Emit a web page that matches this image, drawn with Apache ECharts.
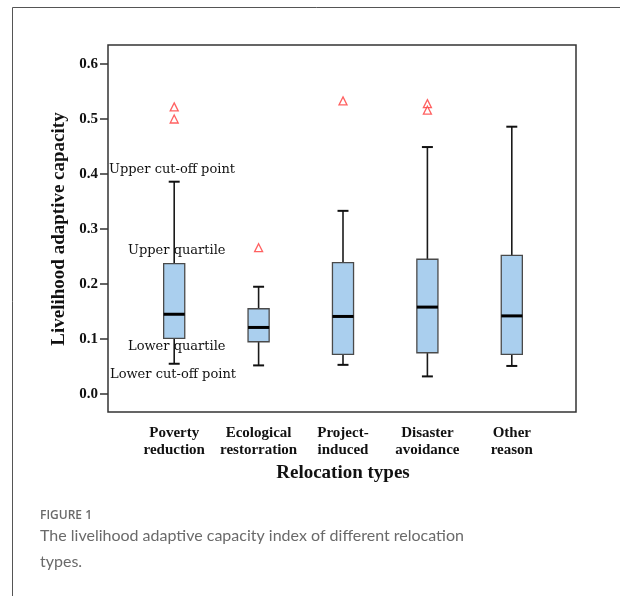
<!DOCTYPE html>
<html>
<head>
<meta charset="utf-8">
<script src="https://cdn.jsdelivr.net/npm/echarts@6/dist/echarts.min.js"></script>
<style>
  html, body { margin: 0; padding: 0; background: #fff; }
  #main { width: 620px; height: 596px; }
</style>
</head>
<body>
<div id="main"></div>
<script>
// relocation types (x axis)
var categories = ["Poverty\nreduction", "Ecological\nrestorration", "Project-\ninduced", "Disaster\navoidance", "Other\nreason"];
// box plot statistics
var lowWhisker = [0.055, 0.052, 0.053, 0.032, 0.051];
var lowerQuartile = [0.101, 0.095, 0.072, 0.075, 0.072];
var medians = [0.145, 0.121, 0.141, 0.158, 0.142];
var upperQuartile = [0.237, 0.155, 0.239, 0.245, 0.252];
var highWhisker = [0.386, 0.195, 0.333, 0.449, 0.486];
// outliers (category index, value)
var outlierCat = [0, 0, 1, 2, 3, 3];
var outlierVal = [0.522, 0.500, 0.266, 0.533, 0.528, 0.516];

var serif = "Liberation Serif";

var boxData = categories.map(function (c, i) {
	return [i, lowWhisker[i], lowerQuartile[i], medians[i], upperQuartile[i], highWhisker[i]];
});
var outliers = outlierCat.map(function (c, i) {
	return [c, outlierVal[i]];
});

var myChart = echarts.init(document.getElementById("main"));

function renderBox(params, api) {
	var idx = api.value(0);
	var band = api.size([1, 0])[0];
	var half = band * 0.125;
	var capHalf = band * 0.065;
	var pMin = api.coord([idx, api.value(1)]);
	var pQ1 = api.coord([idx, api.value(2)]);
	var pMed = api.coord([idx, api.value(3)]);
	var pQ3 = api.coord([idx, api.value(4)]);
	var pMax = api.coord([idx, api.value(5)]);
	var x = pMed[0];
	var black = { stroke: "#1a1a1a", lineWidth: 1.6 };
	return {
		type: "group",
		children: [
			{ type: "line", shape: { x1: x, y1: pMax[1], x2: x, y2: pQ3[1] }, style: black },
			{ type: "line", shape: { x1: x, y1: pQ1[1], x2: x, y2: pMin[1] }, style: black },
			{ type: "line", shape: { x1: x - capHalf, y1: pMax[1], x2: x + capHalf, y2: pMax[1] }, style: { stroke: "#111", lineWidth: 2 } },
			{ type: "line", shape: { x1: x - capHalf, y1: pMin[1], x2: x + capHalf, y2: pMin[1] }, style: { stroke: "#111", lineWidth: 2 } },
			{
				type: "rect",
				shape: { x: x - half, y: pQ3[1], width: half * 2, height: pQ1[1] - pQ3[1] },
				style: { fill: "#aacfee", stroke: "#4a4a4a", lineWidth: 1.3 }
			},
			{ type: "line", shape: { x1: x - half, y1: pMed[1], x2: x + half, y2: pMed[1] }, style: { stroke: "#000", lineWidth: 3 } }
		]
	};
}

var annoStyle = { font: "13px 'DejaVu Serif'", fill: "#111", textVerticalAlign: "middle" };

var option = {
	animation: false,
	backgroundColor: "#fff",
	grid: [
		{ left: 132, right: 66, top: 64, bottom: 202 },
		// outer frame of the plot
		{ left: 108, right: 44, top: 45, bottom: 184, show: true, borderColor: "#333", borderWidth: 1.5, backgroundColor: "transparent" }
	],
	xAxis: [
		{
			type: "category",
			gridIndex: 0,
			data: categories,
			offset: 18,
			axisLine: { show: false },
			axisTick: { alignWithLabel: true, length: 7, lineStyle: { color: "#333", width: 1.5 } },
			axisLabel: { interval: 0, margin: 13, color: "#111", fontFamily: serif, fontWeight: "bold", fontSize: 15, lineHeight: 17 },
			name: "Relocation types",
			nameLocation: "middle",
			nameGap: 51,
			nameTextStyle: { color: "#111", fontFamily: serif, fontWeight: "bold", fontSize: 19 }
		},
		{ type: "value", gridIndex: 1, show: false }
	],
	yAxis: [
		{
			type: "value",
			gridIndex: 0,
			min: 0,
			max: 0.6,
			interval: 0.1,
			offset: 24,
			axisLine: { show: false },
			splitLine: { show: false },
			axisTick: { show: true, length: 8, lineStyle: { color: "#333", width: 1.5 } },
			axisLabel: {
				margin: 10,
				color: "#111",
				fontFamily: serif,
				fontWeight: "bold",
				fontSize: 15,
				formatter: function (v) { return v.toFixed(1); }
			},
			name: "Livelihood adaptive capacity",
			nameLocation: "middle",
			nameGap: 31,
			nameRotate: 90,
			nameTextStyle: { color: "#111", fontFamily: serif, fontWeight: "bold", fontSize: 19 }
		},
		{ type: "value", gridIndex: 1, show: false }
	],
	series: [
		{
			type: "custom",
			xAxisIndex: 0,
			yAxisIndex: 0,
			renderItem: renderBox,
			data: boxData,
			z: 3
		},
		{
			type: "scatter",
			xAxisIndex: 0,
			yAxisIndex: 0,
			symbol: "triangle",
			symbolSize: 8,
			itemStyle: { color: "#fff", borderColor: "#ff3a3a", borderWidth: 1.3 },
			data: outliers,
			z: 4
		}
	],
	graphic: [
		// page border
		{ type: "line", shape: { x1: 12.5, y1: 7.5, x2: 12.5, y2: 596 }, style: { stroke: "#555", lineWidth: 1 } },
		{ type: "line", shape: { x1: 12.5, y1: 7.5, x2: 620, y2: 7.5 }, style: { stroke: "#555", lineWidth: 1 } },
		// annotations
		{ type: "text", left: 109, top: 163, style: Object.assign({ text: "Upper cut-off point" }, annoStyle), z: 5 },
		{ type: "text", left: 128, top: 244, style: Object.assign({ text: "Upper quartile" }, annoStyle), z: 5 },
		{ type: "text", left: 128, top: 340, style: Object.assign({ text: "Lower quartile" }, annoStyle), z: 5 },
		{ type: "text", left: 110, top: 368, style: Object.assign({ text: "Lower cut-off point" }, annoStyle), z: 5 },
		// caption
		{ type: "text", left: 40, top: 510, style: { text: "FIGURE 1", font: "600 12px 'Open Sans'", fill: "#6a6a6a" } },
		{ type: "text", left: 40, top: 528, style: { text: "The livelihood adaptive capacity index of different relocation", font: "16px Lato", fill: "#6a6a6a" } },
		{ type: "text", left: 40, top: 554, style: { text: "types.", font: "16px Lato", fill: "#6a6a6a" } }
	]
};

myChart.setOption(option);
</script>
</body>
</html>
